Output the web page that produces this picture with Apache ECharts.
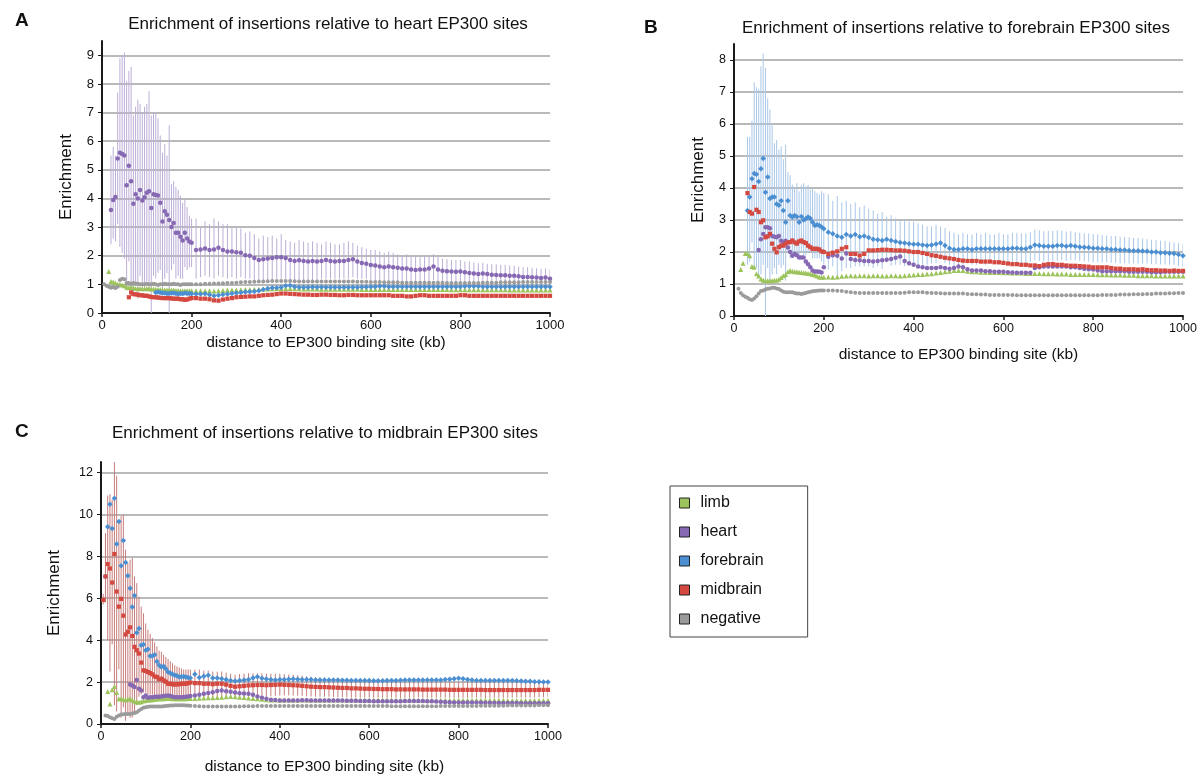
<!DOCTYPE html>
<html><head><meta charset="utf-8">
<script src="https://cdn.jsdelivr.net/npm/echarts@6/dist/echarts.min.js"></script>
<style>html,body{margin:0;padding:0;background:#fff}#c{width:1204px;height:777px}</style>
</head><body><div id="c"></div>
<script>
// distance (kb) of each point
const X = [
 5,10,15,20,25,30,35,40,45,50, 55,60,65,70,75,80,85,90,95,100,
 105,110,115,120,125,130,135,140,145,150, 155,160,165,170,175,180,185,190,195,200,
 210,220,230,240,250,260,270,280,290,300, 310,320,330,340,350,360,370,380,390,400,
 410,420,430,440,450,460,470,480,490,500, 510,520,530,540,550,560,570,580,590,600,
 610,620,630,640,650,660,670,680,690,700, 710,720,730,740,750,760,770,780,790,800,
 810,820,830,840,850,860,870,880,890,900, 910,920,930,940,950,960,970,980,990,1000
];
const NAMES = ['limb','heart','forebrain','midbrain','negative'];
const X_TICKS = [0,200,400,600,800,1000];
const Y_TICKS_A = [0,1,2,3,4,5,6,7,8,9];
const Y_TICKS_B = [0,1,2,3,4,5,6,7,8];
const Y_TICKS_C = [0,2,4,6,8,10,12];

// ---------- Panel A: heart EP300 sites ----------
const limbA = [
 null,null,1.45,1.1,1.08,1.05,1.0,1.0,0.98,0.95, 0.9,0.88,0.9,0.88,0.86,0.85,0.86,0.85,0.85,0.86,
 0.85,0.84,0.84,0.83,0.82,0.82,0.8,0.8,0.8,0.8, 0.8,0.8,0.79,0.79,0.78,0.78,0.78,0.78,0.78,0.78,
 0.78,0.78,0.78,0.78,0.77,0.78,0.79,0.8,0.8,0.8, 0.81,0.82,0.82,0.83,0.83,0.84,0.84,0.85,0.85,0.86,
 0.86,0.86,0.85,0.85,0.84,0.84,0.84,0.84,0.83,0.83, 0.83,0.83,0.83,0.83,0.83,0.83,0.83,0.82,0.82,0.82,
 0.82,0.82,0.82,0.82,0.82,0.82,0.82,0.82,0.82,0.82, 0.82,0.82,0.82,0.82,0.82,0.82,0.82,0.81,0.81,0.81,
 0.81,0.81,0.81,0.81,0.81,0.81,0.81,0.81,0.81,0.81, 0.8,0.8,0.8,0.8,0.8,0.8,0.8,0.8,0.8,0.8
];
const heartA = [
 null,null,null,3.6,3.95,4.05,5.4,5.6,5.55,5.5, 4.46,5.14,4.6,3.82,4.15,4.0,4.3,3.93,4.04,4.2,
 4.25,3.67,4.15,4.12,4.1,3.85,3.2,3.55,3.43,3.25, 3.0,3.14,2.8,2.8,2.66,2.53,2.8,2.6,2.5,2.45,
 2.2,2.22,2.25,2.2,2.22,2.28,2.2,2.15,2.15,2.12, 2.1,2.02,2.0,1.92,1.85,1.88,1.9,1.92,1.95,1.95,
 1.92,1.85,1.82,1.84,1.82,1.8,1.82,1.8,1.82,1.85, 1.82,1.8,1.82,1.82,1.85,1.88,1.8,1.75,1.72,1.68,
 1.66,1.62,1.6,1.62,1.6,1.58,1.55,1.55,1.52,1.5, 1.52,1.52,1.55,1.62,1.52,1.48,1.46,1.45,1.44,1.45,
 1.42,1.4,1.38,1.36,1.38,1.36,1.34,1.33,1.32,1.32, 1.3,1.3,1.28,1.26,1.26,1.25,1.24,1.22,1.24,1.2
];
const heartHiA = [
 null,null,null,5.5,5.8,5.5,7.7,8.9,9.0,9.1, 8.1,8.45,8.6,6.9,7.2,7.45,7.3,7.0,7.2,7.3,
 7.75,6.9,7.0,7.0,6.8,6.2,5.6,5.9,5.5,6.55, 4.5,4.6,4.4,4.3,4.1,3.85,4.0,3.7,3.4,3.3,
 3.3,3.0,3.2,3.1,3.3,3.2,3.1,3.1,3.0,3.0, 2.95,2.8,2.85,2.75,2.6,2.7,2.65,2.7,2.6,2.75,
 2.55,2.5,2.45,2.55,2.5,2.45,2.5,2.45,2.4,2.5, 2.45,2.4,2.4,2.45,2.5,2.45,2.35,2.3,2.25,2.2,
 2.2,2.15,2.1,2.15,2.1,2.05,2.0,2.05,2.0,1.98, 1.95,2.0,2.0,2.05,1.95,1.9,1.88,1.86,1.85,1.85,
 1.8,1.8,1.76,1.74,1.76,1.72,1.7,1.7,1.68,1.68, 1.66,1.65,1.62,1.6,1.6,1.58,1.56,1.54,1.56,1.52
];
const heartLoA = [
 null,null,null,2.4,2.6,2.5,3.1,2.3,2.1,1.9, 0.8,1.8,0.6,0.7,1.1,0.5,1.3,0.9,0.9,1.1,
 0.8,0,1.3,1.2,1.4,1.5,0.8,1.2,1.4,0, 1.5,1.7,1.2,1.3,1.2,1.2,1.6,1.5,1.6,1.6,
 1.2,1.25,1.3,1.25,1.2,1.3,1.25,1.2,1.25,1.2, 1.25,1.2,1.2,1.15,1.1,1.1,1.15,1.15,1.2,1.2,
 1.2,1.15,1.15,1.15,1.15,1.15,1.15,1.15,1.2,1.2, 1.2,1.2,1.2,1.2,1.2,1.25,1.2,1.2,1.2,1.15,
 1.15,1.12,1.12,1.12,1.12,1.1,1.1,1.08,1.06,1.05, 1.06,1.06,1.08,1.15,1.08,1.05,1.04,1.04,1.03,1.04,
 1.02,1.0,1.0,0.98,1.0,0.98,0.98,0.96,0.96,0.96, 0.94,0.94,0.93,0.92,0.92,0.92,0.91,0.9,0.92,0.9
];
const forebrainA = [
 null,null,null,null,null,null,null,null,null,null, null,null,null,null,null,null,null,null,null,null,
 null,null,null,0.72,0.73,0.72,0.7,0.7,0.68,0.68, 0.7,0.7,0.68,0.66,0.68,0.67,0.7,0.68,0.68,0.67,
 0.66,0.66,0.67,0.64,0.6,0.62,0.65,0.66,0.68,0.7, 0.72,0.73,0.74,0.75,0.78,0.82,0.86,0.88,0.88,0.9,
 0.95,0.96,0.92,0.9,0.9,0.9,0.91,0.9,0.91,0.9, 0.9,0.9,0.9,0.9,0.9,0.9,0.9,0.91,0.91,0.92,
 0.92,0.93,0.93,0.92,0.92,0.92,0.92,0.92,0.92,0.92, 0.92,0.92,0.92,0.92,0.92,0.92,0.92,0.92,0.92,0.92,
 0.93,0.93,0.93,0.93,0.92,0.92,0.92,0.92,0.92,0.92, 0.92,0.92,0.92,0.92,0.92,0.92,0.92,0.92,0.92,0.92
];
const midbrainA = [
 null,null,null,null,null,null,null,null,null,null, null,0.55,0.72,0.66,0.65,0.64,0.62,0.62,0.6,0.6,
 0.58,0.56,0.55,0.55,0.54,0.53,0.52,0.52,0.52,0.52, 0.51,0.5,0.5,0.5,0.48,0.48,0.46,0.47,0.5,0.52,
 0.52,0.5,0.5,0.48,0.44,0.43,0.47,0.5,0.52,0.55, 0.56,0.57,0.58,0.58,0.6,0.62,0.63,0.64,0.66,0.68,
 0.68,0.67,0.66,0.65,0.64,0.64,0.63,0.63,0.64,0.64, 0.63,0.63,0.62,0.62,0.63,0.63,0.62,0.62,0.62,0.62,
 0.62,0.62,0.62,0.62,0.6,0.6,0.6,0.58,0.58,0.6, 0.62,0.62,0.6,0.6,0.6,0.6,0.6,0.6,0.6,0.62,
 0.62,0.6,0.6,0.6,0.6,0.6,0.6,0.6,0.6,0.6, 0.6,0.6,0.6,0.6,0.6,0.6,0.6,0.6,0.6,0.6
];
const negativeA = [
 1.0,0.95,0.92,0.88,0.9,0.87,0.92,1.15,1.2,1.18, 1.05,1.05,1.02,1.05,1.03,1.02,1.0,1.0,1.0,1.02,
 1.0,1.0,1.02,1.0,0.98,1.0,1.0,1.02,1.0,1.0, 1.0,1.02,1.0,1.0,0.98,1.0,1.0,1.0,1.0,1.0,
 1.0,1.0,1.02,1.02,1.03,1.03,1.04,1.05,1.05,1.06, 1.07,1.08,1.08,1.09,1.1,1.1,1.11,1.12,1.12,1.12,
 1.12,1.12,1.11,1.1,1.1,1.1,1.1,1.1,1.1,1.1, 1.1,1.1,1.1,1.1,1.1,1.1,1.09,1.09,1.09,1.08,
 1.08,1.08,1.07,1.07,1.07,1.07,1.06,1.06,1.06,1.06, 1.06,1.06,1.06,1.06,1.06,1.06,1.05,1.05,1.05,1.05,
 1.05,1.05,1.05,1.05,1.06,1.06,1.06,1.06,1.07,1.07, 1.07,1.07,1.07,1.08,1.08,1.08,1.08,1.08,1.08,1.08
];

// ---------- Panel B: forebrain EP300 sites ----------
const limbB = [
 null,null,1.45,1.65,1.95,1.95,1.88,1.55,1.52,1.32, 1.25,1.16,1.12,1.1,1.1,1.1,1.1,1.12,1.12,1.15,
 1.2,1.26,1.3,1.38,1.42,1.4,1.38,1.38,1.37,1.36, 1.35,1.34,1.33,1.32,1.3,1.28,1.25,1.22,1.21,1.21,
 1.22,1.21,1.22,1.24,1.25,1.26,1.25,1.26,1.26,1.25, 1.26,1.26,1.25,1.25,1.26,1.26,1.25,1.26,1.27,1.28,
 1.3,1.3,1.31,1.32,1.34,1.36,1.38,1.4,1.42,1.42, 1.42,1.4,1.38,1.38,1.37,1.37,1.36,1.36,1.36,1.35,
 1.35,1.34,1.34,1.34,1.33,1.33,1.33,1.33,1.32,1.32, 1.32,1.31,1.31,1.31,1.3,1.3,1.3,1.3,1.3,1.3,
 1.29,1.29,1.29,1.28,1.28,1.28,1.27,1.27,1.27,1.26, 1.26,1.26,1.26,1.25,1.25,1.25,1.25,1.25,1.25,1.25
];
const heartB = [
 null,null,null,null,null,null,null,null,null,null, 2.06,2.4,2.56,2.77,2.77,2.74,2.5,2.48,2.46,2.5,
 2.35,2.3,2.35,2.14,2.0,1.88,1.94,1.9,1.83,1.83, 1.83,1.7,1.62,1.52,1.42,1.39,1.39,1.38,1.36,1.52,
 1.85,1.9,1.88,1.8,1.95,1.78,1.75,1.74,1.72,1.72, 1.7,1.72,1.74,1.76,1.78,1.82,1.86,1.72,1.65,1.6,
 1.55,1.52,1.5,1.5,1.5,1.52,1.5,1.48,1.5,1.55, 1.52,1.46,1.42,1.42,1.42,1.4,1.4,1.38,1.38,1.38,
 1.37,1.36,1.35,1.35,1.35,1.35,1.5,1.52,1.55,1.55, 1.55,1.55,1.55,1.55,1.52,1.52,1.5,1.48,1.46,1.45,
 1.42,1.4,1.4,1.4,1.4,1.4,1.4,1.38,1.38,1.38, 1.38,1.38,1.37,1.37,1.37,1.38,1.38,1.38,1.38,1.38
];
const forebrainB = [
 null,null,null,null,null,3.3,3.72,4.29,4.45,4.43, 4.2,4.6,4.92,3.87,4.34,3.67,3.72,3.72,3.5,3.46,
 3.6,3.3,2.93,3.6,3.14,3.09,3.14,3.1,2.93,3.11, 3.0,3.04,3.09,3.05,2.93,2.83,2.85,2.83,2.78,2.73,
 2.62,2.57,2.5,2.46,2.55,2.5,2.55,2.48,2.5,2.45, 2.4,2.38,2.36,2.4,2.36,2.33,2.3,2.28,2.26,2.24,
 2.24,2.22,2.2,2.22,2.25,2.28,2.2,2.12,2.08,2.08, 2.1,2.1,2.08,2.1,2.1,2.1,2.1,2.1,2.1,2.1,
 2.1,2.12,2.12,2.1,2.1,2.15,2.22,2.2,2.18,2.18, 2.18,2.2,2.2,2.18,2.2,2.18,2.16,2.15,2.14,2.12,
 2.12,2.1,2.1,2.08,2.08,2.06,2.06,2.05,2.04,2.04, 2.03,2.02,2.0,2.0,1.98,1.98,1.96,1.95,1.92,1.88
];
const forebrainHiB = [
 null,null,null,null,null,5.6,5.6,6.1,7.3,7.15, 7.1,7.8,8.2,7.75,6.8,6.45,5.95,5.4,5.5,5.2,
 5.3,4.9,5.35,4.5,4.4,4.1,4.0,4.15,3.9,4.1, 4.15,4.05,4.1,3.95,4.0,3.9,3.85,3.8,3.9,3.85,
 3.8,3.6,3.75,3.55,3.6,3.5,3.55,3.4,3.45,3.35, 3.3,3.2,3.25,3.1,3.15,3.05,3.0,3.0,2.95,2.95,
 2.9,2.85,2.8,2.8,2.85,2.8,2.75,2.65,2.6,2.55, 2.6,2.55,2.55,2.6,2.55,2.6,2.55,2.55,2.6,2.55,
 2.55,2.6,2.6,2.58,2.58,2.62,2.7,2.68,2.65,2.66, 2.66,2.68,2.66,2.64,2.65,2.62,2.6,2.58,2.58,2.56,
 2.55,2.53,2.52,2.5,2.5,2.48,2.47,2.46,2.44,2.44, 2.42,2.4,2.38,2.38,2.35,2.35,2.32,2.3,2.28,2.25
];
const forebrainLoB = [
 null,null,null,null,null,1.6,1.7,2.3,1.5,1.5, 1.2,1.3,1.6,0,1.5,1.0,1.3,1.5,1.3,1.6,
 1.5,1.6,1.1,2.0,1.8,1.9,2.0,2.0,1.9,2.0, 1.9,1.9,2.0,2.0,1.8,1.8,1.8,1.8,1.7,1.6,
 1.45,1.55,1.25,1.4,1.5,1.5,1.55,1.55,1.55,1.55, 1.5,1.55,1.47,1.7,1.57,1.6,1.6,1.56,1.57,1.53,
 1.58,1.6,1.6,1.64,1.65,1.76,1.65,1.6,1.56,1.6, 1.6,1.65,1.6,1.6,1.65,1.6,1.65,1.65,1.6,1.65,
 1.65,1.64,1.64,1.62,1.62,1.68,1.74,1.72,1.71,1.7, 1.7,1.72,1.74,1.72,1.75,1.74,1.72,1.72,1.7,1.68,
 1.69,1.67,1.68,1.66,1.66,1.64,1.65,1.64,1.64,1.64, 1.64,1.64,1.62,1.62,1.61,1.61,1.6,1.6,1.56,1.51
];
const midbrainB = [
 null,null,null,null,null,3.84,3.25,3.2,4.03,3.32, 3.25,2.93,2.99,2.46,2.49,2.57,2.26,2.1,1.99,2.15,
 2.2,2.2,2.26,2.3,2.31,2.36,2.3,2.26,2.33,2.36, 2.31,2.28,2.2,2.15,2.1,2.1,2.1,2.08,2.02,2.0,
 1.94,1.98,2.02,2.1,2.15,1.94,1.94,1.89,1.94,2.05, 2.05,2.06,2.07,2.07,2.06,2.05,2.05,2.04,2.02,2.0,
 2.0,1.97,1.94,1.9,1.88,1.85,1.82,1.8,1.78,1.75, 1.73,1.72,1.72,1.72,1.7,1.7,1.7,1.68,1.68,1.66,
 1.64,1.62,1.62,1.6,1.6,1.58,1.58,1.56,1.6,1.62, 1.62,1.6,1.6,1.58,1.57,1.57,1.56,1.55,1.54,1.52,
 1.52,1.52,1.52,1.5,1.48,1.48,1.46,1.46,1.46,1.45, 1.46,1.44,1.43,1.43,1.42,1.42,1.41,1.42,1.41,1.41
];
const negativeB = [
 null,0.85,0.72,0.65,0.6,0.57,0.52,0.5,0.55,0.62, 0.7,0.78,0.8,0.83,0.85,0.86,0.88,0.88,0.86,0.84,
 0.8,0.76,0.74,0.74,0.74,0.74,0.72,0.7,0.7,0.69, 0.7,0.72,0.74,0.76,0.77,0.78,0.79,0.8,0.8,0.8,
 0.8,0.8,0.79,0.78,0.76,0.74,0.73,0.72,0.72,0.72, 0.72,0.72,0.72,0.72,0.72,0.72,0.72,0.73,0.74,0.74,
 0.74,0.74,0.73,0.72,0.72,0.71,0.7,0.7,0.7,0.7, 0.7,0.69,0.68,0.68,0.67,0.67,0.66,0.66,0.66,0.66,
 0.66,0.66,0.65,0.65,0.65,0.65,0.65,0.65,0.65,0.65, 0.65,0.65,0.65,0.65,0.65,0.65,0.65,0.65,0.65,0.65,
 0.65,0.66,0.66,0.66,0.66,0.67,0.67,0.67,0.68,0.68, 0.68,0.69,0.69,0.7,0.7,0.7,0.71,0.71,0.72,0.72
];

// ---------- Panel C: midbrain EP300 sites ----------
const limbC = [
 null,null,1.55,0.96,1.63,1.79,1.5,1.2,1.2,1.18, 1.15,1.18,1.2,1.15,1.09,1.05,1.04,1.06,1.1,1.12,
 1.14,1.15,1.16,1.18,1.19,1.2,1.2,1.21,1.22,1.22, 1.22,1.21,1.2,1.2,1.2,1.2,1.21,1.21,1.22,1.22,
 1.22,1.23,1.24,1.25,1.25,1.26,1.28,1.3,1.31,1.3, 1.28,1.26,1.24,1.22,1.2,1.18,1.16,1.15,1.15,1.15,
 1.15,1.15,1.15,1.15,1.15,1.15,1.15,1.15,1.15,1.15, 1.15,1.15,1.14,1.14,1.14,1.14,1.14,1.14,1.14,1.14,
 1.14,1.14,1.14,1.14,1.14,1.14,1.14,1.14,1.14,1.14, 1.13,1.13,1.13,1.13,1.13,1.13,1.13,1.13,1.13,1.13,
 1.13,1.13,1.13,1.13,1.13,1.13,1.13,1.13,1.13,1.13, 1.12,1.12,1.12,1.12,1.12,1.12,1.12,1.12,1.12,1.12
];
const heartC = [
 null,null,null,null,null,null,null,null,null,null, null,null,1.89,1.84,1.76,2.1,1.68,1.6,1.28,1.36,
 1.25,1.28,1.28,1.3,1.3,1.3,1.31,1.33,1.35,1.36, 1.33,1.3,1.28,1.28,1.28,1.28,1.29,1.3,1.31,1.33,
 1.36,1.4,1.44,1.48,1.52,1.57,1.6,1.56,1.54,1.5, 1.47,1.46,1.44,1.4,1.31,1.25,1.2,1.16,1.14,1.12,
 1.12,1.12,1.12,1.12,1.13,1.13,1.12,1.12,1.12,1.12, 1.12,1.12,1.12,1.12,1.11,1.11,1.11,1.1,1.1,1.1,
 1.09,1.09,1.09,1.09,1.09,1.09,1.09,1.1,1.1,1.1, 1.1,1.1,1.09,1.08,1.07,1.06,1.05,1.04,1.03,1.02,
 1.02,1.02,1.02,1.02,1.02,1.01,1.01,1.0,1.0,1.0, 1.0,1.0,1.0,0.99,0.99,0.99,0.99,0.99,0.99,0.99
];
const forebrainC = [
 null,7.04,9.41,10.48,9.33,10.77,8.59,9.66,7.55,8.75, 7.71,7.07,6.48,5.58,6.13,4.35,4.56,3.76,3.79,3.52,
 3.57,3.25,3.25,3.3,2.98,2.8,2.72,2.75,2.64,2.48, 2.43,2.37,2.32,2.3,2.24,2.26,2.27,2.24,2.22,2.2,
 2.37,2.22,2.28,2.32,2.2,2.19,2.16,2.12,2.08,2.05, 2.08,2.1,2.12,2.2,2.25,2.18,2.15,2.12,2.1,2.12,
 2.12,2.14,2.15,2.14,2.12,2.12,2.12,2.1,2.1,2.1, 2.1,2.1,2.1,2.09,2.09,2.08,2.08,2.08,2.07,2.07,
 2.06,2.06,2.06,2.07,2.08,2.08,2.09,2.1,2.1,2.1, 2.1,2.1,2.1,2.1,2.1,2.1,2.12,2.14,2.16,2.18,
 2.16,2.12,2.1,2.08,2.08,2.08,2.08,2.08,2.08,2.08, 2.08,2.07,2.06,2.05,2.04,2.04,2.02,2.02,2.0,2.0
];
const midbrainC = [
 5.92,7.04,7.63,7.42,6.75,8.11,6.32,5.6,5.97,5.17, 4.27,4.4,4.61,4.2,3.68,3.52,3.36,2.93,2.56,2.53,
 2.48,2.43,2.37,2.27,2.24,2.14,2.16,2.08,2.02,1.92, 1.92,1.89,1.89,1.89,1.9,1.92,1.92,1.92,1.95,1.98,
 1.95,1.95,1.92,1.92,1.9,1.92,1.92,1.88,1.82,1.78, 1.8,1.82,1.84,1.85,1.86,1.86,1.85,1.86,1.87,1.88,
 1.87,1.86,1.85,1.84,1.82,1.8,1.78,1.77,1.76,1.76, 1.75,1.74,1.73,1.72,1.72,1.7,1.7,1.69,1.68,1.68,
 1.67,1.67,1.66,1.66,1.66,1.65,1.65,1.65,1.65,1.65, 1.65,1.64,1.64,1.64,1.64,1.64,1.64,1.63,1.63,1.63,
 1.63,1.63,1.63,1.63,1.63,1.62,1.62,1.62,1.62,1.62, 1.62,1.62,1.62,1.62,1.62,1.62,1.62,1.63,1.63,1.63
];
const midbrainHiC = [
 6.2,9.1,10.9,10.96,10.7,12.64,11.84,9.68,9.92,10.0, 8.32,7.68,7.84,7.92,7.04,6.72,6.08,5.6,5.28,4.8,
 4.5,4.3,4.1,3.9,3.7,3.5,3.45,3.3,3.2,3.1, 3.0,2.9,2.8,2.75,2.7,2.65,2.6,2.6,2.6,2.6,
 2.6,2.6,2.55,2.55,2.5,2.5,2.5,2.45,2.4,2.35, 2.38,2.4,2.42,2.42,2.42,2.42,2.4,2.4,2.4,2.4,
 2.38,2.36,2.35,2.33,2.3,2.28,2.25,2.24,2.22,2.22, 2.2,2.19,2.18,2.16,2.16,2.14,2.13,2.12,2.1,2.1,
 2.09,2.08,2.07,2.07,2.06,2.05,2.05,2.05,2.05,2.05, 2.04,2.03,2.03,2.03,2.03,2.02,2.02,2.01,2.01,2.01,
 2.01,2.01,2.0,2.0,2.0,2.0,1.99,1.99,1.99,1.99, 1.99,1.98,1.98,1.98,1.98,1.98,1.98,1.98,1.98,1.98
];
const midbrainLoC = [
 5.7,5.8,4.0,2.5,3.8,0.9,0.6,2.6,0.3,0.8, 0.15,0.5,0.3,0.3,0.5,0.9,1.3,1.4,1.5,1.5,
 1.4,1.4,1.4,1.3,1.3,1.2,1.25,1.2,1.15,1.1, 1.1,1.1,1.1,1.1,1.1,1.15,1.2,1.2,1.25,1.3,
 1.3,1.3,1.29,1.29,1.3,1.34,1.34,1.31,1.24,1.21, 1.22,1.24,1.26,1.28,1.3,1.3,1.3,1.32,1.34,1.36,
 1.36,1.36,1.35,1.35,1.34,1.32,1.31,1.3,1.3,1.3, 1.3,1.29,1.28,1.28,1.28,1.26,1.27,1.26,1.26,1.26,
 1.25,1.26,1.25,1.25,1.26,1.25,1.25,1.25,1.25,1.25, 1.26,1.25,1.25,1.25,1.25,1.26,1.26,1.25,1.25,1.25,
 1.25,1.25,1.26,1.26,1.26,1.24,1.25,1.25,1.25,1.25, 1.25,1.26,1.26,1.26,1.26,1.26,1.26,1.28,1.28,1.28
];
const negativeC = [
 null,0.4,0.38,0.32,0.28,0.24,0.35,0.4,0.45,0.46, 0.48,0.48,0.48,0.5,0.52,0.56,0.65,0.72,0.78,0.8,
 0.82,0.84,0.84,0.84,0.83,0.83,0.84,0.85,0.86,0.87, 0.88,0.88,0.89,0.9,0.9,0.9,0.89,0.88,0.88,0.87,
 0.86,0.85,0.84,0.83,0.83,0.83,0.84,0.84,0.84,0.84, 0.84,0.85,0.85,0.85,0.86,0.86,0.86,0.86,0.86,0.86,
 0.86,0.86,0.86,0.86,0.86,0.86,0.86,0.86,0.86,0.86, 0.86,0.86,0.86,0.86,0.86,0.86,0.86,0.86,0.86,0.86,
 0.86,0.86,0.86,0.86,0.85,0.85,0.85,0.85,0.85,0.85, 0.85,0.85,0.85,0.85,0.85,0.86,0.86,0.86,0.86,0.86,
 0.86,0.86,0.86,0.86,0.87,0.87,0.87,0.87,0.87,0.87, 0.88,0.88,0.88,0.88,0.88,0.88,0.88,0.89,0.89,0.89
];

// ---------- styling ----------
const FONT = '"Liberation Sans", Arial, Helvetica, sans-serif';
const COLORS = {limb:'#9cc35c', heart:'#8668b3', forebrain:'#4b8fd2', midbrain:'#d4483f', negative:'#9b9b9b'};
const SYMBOL = {limb:'triangle', heart:'circle', forebrain:'diamond', midbrain:'rect', negative:'circle'};
const SIZE = {limb:5, heart:4.5, forebrain:5.5, midbrain:4.2, negative:4};

const panels = [
  { letter:'A', title:'Enrichment of insertions relative to heart EP300 sites',
    titleX:328, titleY:16, letterX:15, letterY:11,
    grid:{left:102, top:41, width:448, height:272}, ymax:9.5, yTicks:Y_TICKS_A, yInterval:1,
    yNameGap:27, xNameGap:22, labelSize:13,
    series:{limb:limbA, heart:heartA, forebrain:forebrainA, midbrain:midbrainA, negative:negativeA},
    err:{lo:heartLoA, hi:heartHiA, color:'#bcaed6'} },
  { letter:'B', title:'Enrichment of insertions relative to forebrain EP300 sites',
    titleX:956, titleY:20, letterX:644, letterY:18,
    grid:{left:734, top:44, width:449, height:272}, ymax:8.5, yTicks:Y_TICKS_B, yInterval:1,
    yNameGap:27, xNameGap:31, labelSize:12.5,
    series:{limb:limbB, heart:heartB, forebrain:forebrainB, midbrain:midbrainB, negative:negativeB},
    err:{lo:forebrainLoB, hi:forebrainHiB, color:'#a9c7e8'} },
  { letter:'C', title:'Enrichment of insertions relative to midbrain EP300 sites',
    titleX:325, titleY:425, letterX:15, letterY:422,
    grid:{left:101, top:462, width:447, height:262}, ymax:12.5, yTicks:Y_TICKS_C, yInterval:2,
    yNameGap:38, xNameGap:35, labelSize:12.5,
    series:{limb:limbC, heart:heartC, forebrain:forebrainC, midbrain:midbrainC, negative:negativeC},
    err:{lo:midbrainLoC, hi:midbrainHiC, color:'#c77d7b'} }
];

function pts(arr){ const out=[]; arr.forEach((v,i)=>{ if(v!=null) out.push([X[i], v]); }); return out; }
function bars(lo, hi){ const out=[]; X.forEach((x,i)=>{ if(lo[i]!=null && hi[i]!=null) out.push([x, lo[i], hi[i]]); }); return out; }

const option = {
  animation:false,
  backgroundColor:'#fff',
  title:[], grid:[], xAxis:[], yAxis:[], series:[],
  legend:{
    orient:'vertical', left:670, top:486, padding:[8,44,9,9],
    itemWidth:10, itemHeight:10, itemGap:11, selectedMode:false,
    borderColor:'#444', borderWidth:1,
    textStyle:{fontSize:16, fontFamily:FONT, color:'#111', lineHeight:18, padding:[0,0,0,6]},
    data:NAMES.map(n=>({name:n, icon:'rect', itemStyle:{color:COLORS[n], borderColor:'#222', borderWidth:1}}))
  }
};

panels.forEach((p, k)=>{
  option.title.push({text:p.title, left:p.titleX, top:p.titleY, textAlign:'center', padding:0,
    textStyle:{fontSize:17, fontWeight:'normal', fontFamily:FONT, color:'#111'}});
  option.title.push({text:p.letter, left:p.letterX, top:p.letterY, padding:0,
    textStyle:{fontSize:19, fontWeight:'bold', fontFamily:FONT, color:'#111'}});
  option.grid.push(Object.assign({containLabel:false}, p.grid));
  option.xAxis.push({
    type:'value', gridIndex:k, min:0, max:1000, interval:200,
    name:'distance to EP300 binding site (kb)', nameLocation:'middle', nameGap:p.xNameGap,
    nameTextStyle:{fontSize:15.5, fontFamily:FONT, color:'#111'},
    axisLine:{show:true, onZero:false, lineStyle:{color:'#1a1a1a', width:2}},
    axisTick:{show:true, length:4, lineStyle:{color:'#1a1a1a', width:1.5}, customValues:X_TICKS},
    axisLabel:{fontSize:p.labelSize, fontFamily:FONT, color:'#111', margin:6, customValues:X_TICKS,
               formatter:function(v){ return String(v); }},
    splitLine:{show:false}
  });
  option.yAxis.push({
    type:'value', gridIndex:k, min:0, max:p.ymax, interval:p.yInterval,
    name:'Enrichment', nameLocation:'middle', nameGap:p.yNameGap,
    nameTextStyle:{fontSize:17, fontFamily:FONT, color:'#111'},
    axisLine:{show:true, lineStyle:{color:'#1a1a1a', width:2}},
    axisTick:{show:true, length:4, lineStyle:{color:'#1a1a1a', width:1}, customValues:p.yTicks},
    axisLabel:{fontSize:p.labelSize, fontFamily:FONT, color:'#111', margin:8, customValues:p.yTicks,
               formatter:function(v){ return String(v); }},
    splitLine:{show:true, lineStyle:{color:'#a3a3a3', width:1.6}}
  });
  // error bars
  option.series.push({
    type:'custom', name:'err'+p.letter, xAxisIndex:k, yAxisIndex:k, clip:true, z:1,
    encode:{x:0, y:[1,2]},
    data:bars(p.err.lo, p.err.hi),
    renderItem:(function(color){ return function(params, api){
      const a = api.coord([api.value(0), api.value(1)]);
      const b = api.coord([api.value(0), api.value(2)]);
      return {type:'line', shape:{x1:a[0], y1:a[1], x2:b[0], y2:b[1]},
              style:{stroke:color, lineWidth:1}};
    };})(p.err.color),
    silent:true
  });
  NAMES.forEach((n, j)=>{
    option.series.push({
      type:'scatter', name:n, xAxisIndex:k, yAxisIndex:k, z:2+j,
      symbol:SYMBOL[n], symbolSize:SIZE[n],
      itemStyle:{color:COLORS[n], opacity:1},
      data:pts(p.series[n]), silent:true
    });
  });
});

const chart = echarts.init(document.getElementById('c'), null, {renderer:'canvas'});
chart.setOption(option);
</script>
</body></html>
